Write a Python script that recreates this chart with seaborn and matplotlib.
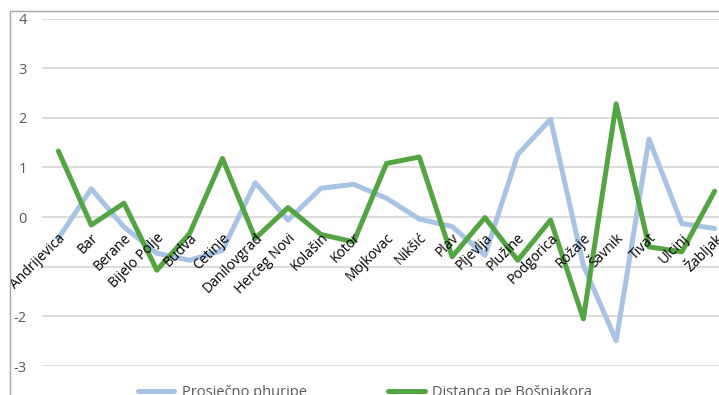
import pandas as pd
import matplotlib.pyplot as plt
import matplotlib.transforms as mtransforms
import seaborn as sns
from matplotlib.patches import Rectangle
from matplotlib.ticker import FixedLocator, FixedFormatter


towns = [
    "Andrijevica", "Bar", "Berane", "Bijelo Polje", "Budva", "Cetinje",
    "Danilovgrad", "Herceg Novi", "Kolašin", "Kotor", "Mojkovac", "Nikšić",
    "Plav", "Pljevlja", "Plužine", "Podgorica", "Rožaje", "Šavnik", "Tivat",
    "Ulcinj", "Žabljak",
]

prosjecno = [
    -0.43, 0.57, -0.20, -0.73, -0.87, -0.67, 0.69, -0.06, 0.58, 0.66, 0.38,
    -0.04, -0.19, -0.77, 1.26, 1.97, -0.97, -2.49, 1.57, -0.13, -0.23,
]

distanca = [
    1.33, -0.16, 0.28, -1.07, -0.33, 1.18, -0.43, 0.19, -0.35, -0.50, 1.08,
    1.21, -0.80, -0.01, -0.87, -0.06, -2.05, 2.28, -0.60, -0.70, 0.52,
]

series_names = ["Prosječno phuripe", "Distanca pe Bošnjakora"]
series_colors = ["#A9C3E5", "#55A443"]

y_ticks = [-3, -2, -1, 0, 1, 2, 3, 4]
y_tick_labels = ["-3", "-2", "", "0", "1", "2", "3", "4"]


df = pd.DataFrame({
    "town": towns * 2,
    "value": prosjecno + distanca,
    "series": [series_names[0]] * len(towns) + [series_names[1]] * len(towns),
})

sns.set_style("white")
plt.rcParams["font.family"] = ["Open Sans", "DejaVu Sans"]

fig = plt.figure(figsize=(7.19, 3.95), dpi=100)
ax = fig.add_axes([42 / 719, 29 / 395, 689 / 719, 347.5 / 395])

sns.lineplot(
    data=df,
    x="town",
    y="value",
    hue="series",
    palette=dict(zip(series_names, series_colors)),
    linewidth=3.6,
    sort=False,
    ax=ax,
)

ax.set_xlim(-0.5, len(towns) - 0.5)
ax.set_ylim(-3, 4)

# horizontal gridlines, Excel style
ax.yaxis.set_major_locator(FixedLocator(y_ticks))
ax.yaxis.set_major_formatter(FixedFormatter(y_tick_labels))
ax.grid(axis="y", color="#D9D9D9", linewidth=1.3)
ax.grid(axis="x", visible=False)
ax.set_axisbelow(True)
# category labels are drawn over the lines
ax.xaxis.set_zorder(5)

for side in ["top", "right", "left"]:
    ax.spines[side].set_visible(False)

# category labels sit next to the zero line
ax.spines["bottom"].set_position(("data", 0))
ax.spines["bottom"].set_visible(False)

ax.tick_params(axis="y", length=0, pad=11, labelsize=10.5, labelcolor="#595959")
ax.tick_params(axis="x", length=0, pad=13.5, labelsize=10, labelcolor="#000000")
shift = mtransforms.ScaledTranslation(0.05, 0, fig.dpi_scale_trans)
for lbl in ax.get_xticklabels():
    lbl.set_rotation(45)
    lbl.set_ha("right")
    lbl.set_va("center")
    lbl.set_rotation_mode("anchor")
    lbl.set_transform(lbl.get_transform() + shift)

ax.set_xlabel("")
ax.set_ylabel("")

handles, labels = ax.get_legend_handles_labels()
ax.get_legend().remove()
fig.legend(
    handles,
    labels,
    loc="center",
    bbox_to_anchor=(365 / 719, 2 / 395),
    ncol=2,
    frameon=False,
    fontsize=10.5,
    labelcolor="#595959",
    handlelength=2.5,
    handletextpad=0.5,
    columnspacing=5.6,
)

# outer chart border
fig.patches.append(
    Rectangle(
        (10 / 719, -0.1), 1.1, (395 - 11) / 395 + 0.1,
        transform=fig.transFigure,
        fill=False,
        edgecolor="#A6A6A6",
        linewidth=1.0,
    )
)

fig.savefig("out.png", dpi=100)
